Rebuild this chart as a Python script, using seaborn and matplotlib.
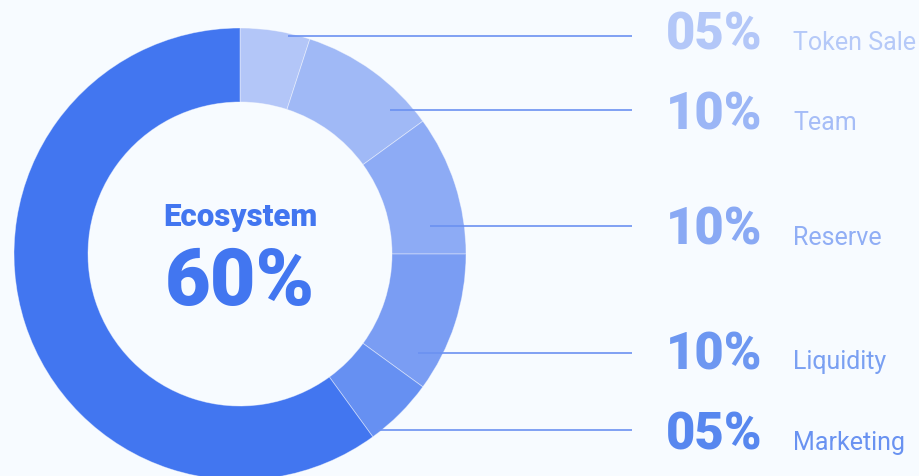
import matplotlib
matplotlib.use("Agg")
import matplotlib.pyplot as plt
import seaborn as sns

#### data
categories = ["Token Sale", "Team", "Reserve", "Liquidity", "Marketing", "Ecosystem"]
shares = [5, 10, 10, 10, 5, 60]

#### styles
slice_colors = ["#b3c6f8", "#a0b9f6", "#8dabf5", "#7a9df3", "#6690f2", "#4276f0"]
num_colors = ["#b3c7f8", "#9bb6f6", "#89a9f4", "#6d97f1", "#5787ef"]
lab_colors = ["#b5c9f8", "#a6bdf7", "#90aef5", "#7aa0f2", "#6992f1"]
bg = "#f7fbff"

#### layout (pie units, radius = 1)
line_y = [0.965, 0.637, 0.124, -0.438, -0.779]
line_x0 = [0.212, 0.664, 0.841, 0.788, 0.611]
line_x1 = 1.735
text_base = [0.903, 0.549, 0.040, -0.509, -0.867]
num_right = 2.31
lab_left = 2.447

sns.set_theme(style="white")
plt.rcParams["font.family"] = ["Roboto", "DejaVu Sans"]

W, H = 919, 476
fig = plt.figure(figsize=(W / 100, H / 100), dpi=100, facecolor=bg)
# pie centre at (240, 254) px, radius 226 px
ax = fig.add_axes([14 / W, (H - 254 - 226) / H, 452 / W, 452 / H])
ax.set_facecolor(bg)

ax.pie(
    shares,
    colors=slice_colors,
    startangle=90,
    counterclock=False,
    radius=1,
    wedgeprops=dict(width=74 / 226, edgecolor=(1, 1, 1, 0.45), linewidth=0.6),
)
ax.set_xlim(-1, 1)
ax.set_ylim(-1, 1)
ax.axis("off")

# centre text
ax.text(0, 0.124, categories[-1], ha="center", va="baseline", fontsize=22.5,
        fontweight="black", color="#4276f0")
ax.text(0, -0.226, f"{shares[-1]}%", ha="center", va="baseline", fontsize=57,
        fontweight="black", color="#4276f0")

# leader lines + side labels
for i in range(len(categories) - 1):
    ax.plot([line_x0[i], line_x1], [line_y[i], line_y[i]], color="#6b91f1",
            lw=1.2, clip_on=False, solid_capstyle="butt")
    ax.text(num_right, text_base[i], f"{shares[i]:02d}%", ha="right", va="baseline",
            fontsize=36.5, fontweight="black", color=num_colors[i], clip_on=False)
    ax.text(lab_left, text_base[i], categories[i], ha="left", va="baseline",
            fontsize=18, color=lab_colors[i], clip_on=False)

fig.savefig("out.png", dpi=100, facecolor=bg)
